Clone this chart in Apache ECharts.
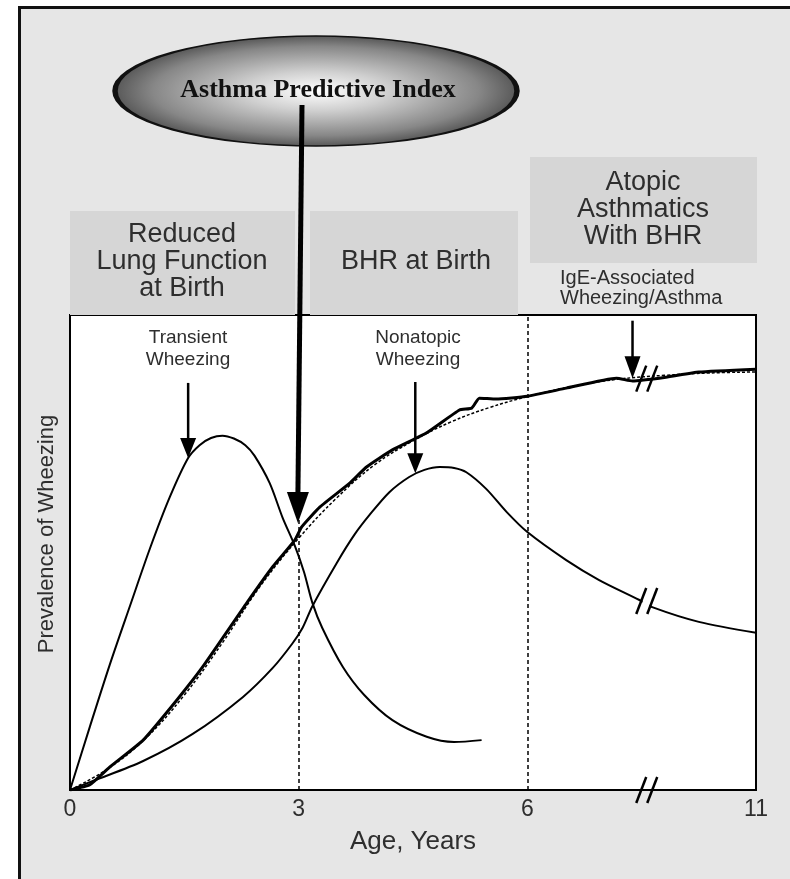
<!DOCTYPE html>
<html>
<head>
<meta charset="utf-8">
<script src="https://cdn.jsdelivr.net/npm/echarts@6/dist/echarts.min.js"></script>
<style>
  html, body { margin: 0; padding: 0; background: #fff; }
  #main { width: 790px; height: 879px; }
</style>
</head>
<body>
<div id="main"></div>
<script>
// ages in years, values = relative prevalence (0-100)
const tickAges = [0, 3, 6, 11];

const transientAge = [0, 0.26, 0.52, 0.79, 1.05, 1.31, 1.55, 1.70, 1.85, 2.0, 2.15, 2.30, 2.42, 2.62, 2.79, 2.95, 3.07, 3.18, 3.31, 3.58, 3.86, 4.23, 4.68, 5.04, 5.40];
const transientVal = [0, 13.3, 26.3, 38.9, 50.9, 61.7, 69.9, 72.6, 74.1, 74.6, 74.0, 72.6, 70.4, 64.6, 57.3, 51.4, 45.9, 39.4, 34.1, 25.9, 20.0, 14.7, 11.2, 10.1, 10.5];

const nonatopicAge = [0, 0.30, 0.96, 1.61, 2.27, 2.66, 2.92, 3.05, 3.18, 3.50, 3.73, 3.93, 4.19, 4.45, 4.65, 4.85, 5.04, 5.20, 5.46, 5.73, 6.0, 6.85, 7.57, 8.45, 8.73, 9.75, 11];
const nonatopicVal = [0, 1.9, 6.1, 11.8, 19.6, 25.7, 30.9, 34.1, 38.7, 47.8, 53.7, 57.9, 62.7, 65.9, 67.4, 68.0, 67.8, 66.9, 63.4, 58.5, 54.3, 48.4, 44.2, 40.0, 38.5, 35.4, 33.1];

const atopicAge = [0, 0.26, 0.52, 0.96, 1.40, 1.74, 2.32, 2.66, 2.95, 3.04, 3.28, 3.67, 3.89, 4.23, 4.68, 5.11, 5.27, 5.37, 5.59, 6.0, 6.85, 7.95, 8.3, 9.03, 9.75, 11];
const atopicVal = [0, 1.1, 4.8, 10.5, 18.9, 25.9, 39.4, 47.0, 52.6, 55.4, 59.6, 64.6, 68.0, 71.6, 75.2, 80.0, 80.4, 82.5, 82.3, 82.9, 84.6, 86.7, 86.1, 86.9, 88.0, 88.6];

const fitAge = [0, 0.5, 1, 1.5, 2, 2.5, 3, 3.5, 4, 4.5, 5, 5.5, 6, 7, 8, 9, 10, 11];
const fitVal = [0, 4.5, 11, 20, 31, 43, 53, 61.5, 68.5, 73.5, 77.5, 80.5, 82.8, 85, 86.5, 87.3, 87.8, 88.0];

// axis is broken after 6 years: later years are drawn compressed
function pos(age) { return age <= 6 ? age : 6 + (age - 6) * 0.6; }
function pairs(ages, vals) { return ages.map((a, i) => [pos(a), vals[i]]); }

const font = '"Liberation Sans", Arial, Helvetica, sans-serif';
const ink = '#2e2e2e';

const chart = echarts.init(document.getElementById('main'));

const lineBase = { type: 'line', showSymbol: false, silent: true, animation: false };

chart.setOption({
  backgroundColor: '#e6e6e6',
  animation: false,
  grid: {
    left: 70, top: 315, width: 686, height: 475,
    show: true, backgroundColor: '#fff', borderColor: '#000', borderWidth: 2
  },
  xAxis: {
    type: 'value', min: 0, max: pos(11), interval: 3,
    axisLine: { show: true, lineStyle: { color: '#000', width: 2 } },
    axisTick: { show: false },
    splitLine: { show: false },
    axisLabel: {
      margin: 8, color: ink, fontFamily: font, fontSize: 23,
      formatter: v => { const i = [0, 3, 6, pos(11)].indexOf(v); return i >= 0 ? String(tickAges[i]) : ''; }
    },
    name: 'Age, Years', nameLocation: 'middle', nameGap: 39,
    nameTextStyle: { color: ink, fontFamily: font, fontSize: 26 }
  },
  yAxis: {
    type: 'value', min: 0, max: 100,
    axisLine: { show: true, lineStyle: { color: '#000', width: 2 } },
    axisTick: { show: false }, axisLabel: { show: false }, splitLine: { show: false }
  },
  series: [
    Object.assign({}, lineBase, {
      name: 'Transient Wheezing', data: pairs(transientAge, transientVal), smooth: 0.3,
      lineStyle: { color: '#000', width: 2 },
      markLine: {
        silent: true, symbol: 'none', label: { show: false },
        lineStyle: { color: '#000', width: 1.5, type: [4, 3] },
        data: [{ xAxis: 3 }, { xAxis: 6 }]
      }
    }),
    Object.assign({}, lineBase, {
      name: 'Nonatopic Wheezing', data: pairs(nonatopicAge, nonatopicVal), smooth: 0.3,
      lineStyle: { color: '#000', width: 2 }
    }),
    Object.assign({}, lineBase, {
      name: 'IgE-Associated Wheezing/Asthma', data: pairs(atopicAge, atopicVal), smooth: 0.15,
      lineStyle: { color: '#000', width: 3 }
    }),
    Object.assign({}, lineBase, {
      name: 'fit', data: pairs(fitAge, fitVal), smooth: 0.4,
      lineStyle: { color: '#000', width: 1.5, type: [3, 2] }
    })
  ]
});

// annotations placed from data coordinates
function px(age, val) { return chart.convertToPixel({ gridIndex: 0 }, [pos(age), val]); }

function arrow(age, valTop, valTip, w, headW, headH) {
  const top = px(age, valTop), tip = px(age, valTip);
  return [
    { type: 'line', z: 50, shape: { x1: top[0], y1: top[1], x2: tip[0], y2: tip[1] - headH + 2 }, style: { stroke: '#000', lineWidth: w } },
    { type: 'polygon', z: 50, shape: { points: [[tip[0] - headW / 2, tip[1] - headH], [tip[0] + headW / 2, tip[1] - headH], [tip[0], tip[1]]] }, style: { fill: '#000' } }
  ];
}

function slashes(age, val, erase) {
  const c = px(age, val);
  const els = [];
  if (erase) {
    els.push({ type: 'polygon', z: 40, shape: { points: [[c[0] - 6, c[1] + 8], [c[0] - 1, c[1] - 8], [c[0] + 7, c[1] - 8], [c[0] + 2, c[1] + 8]] }, style: { fill: '#fff' } });
  }
  [-5, 6].forEach(d => {
    els.push({ type: 'line', z: 45, shape: { x1: c[0] + d - 5, y1: c[1] + 13, x2: c[0] + d + 5, y2: c[1] - 13 }, style: { stroke: '#000', lineWidth: 2.5 } });
  });
  return els;
}

function label(text, x, y, size, align, lh) {
  return {
    type: 'text', z: 30, x: x, y: y,
    style: {
      text: text, fill: ink, font: size + 'px ' + font, lineHeight: lh || size,
      align: align || 'center', verticalAlign: 'middle',
      textAlign: align || 'center', textVerticalAlign: 'middle'
    }
  };
}

const breakAge = 8.6;
const tip = px(2.99, 56.2);

const elements = [
  // page frame
  { type: 'rect', z: 1, shape: { x: 0, y: 0, width: 18, height: 879 }, style: { fill: '#fff' } },
  { type: 'rect', z: 1, shape: { x: 0, y: 0, width: 790, height: 6 }, style: { fill: '#fff' } },
  { type: 'polyline', z: 2, shape: { points: [[19.5, 879], [19.5, 7.5], [790, 7.5]] }, style: { stroke: '#111', lineWidth: 3, fill: null } },
  // phase boxes
  { type: 'rect', z: 3, shape: { x: 70, y: 211, width: 225, height: 104 }, style: { fill: '#d6d6d6' } },
  { type: 'rect', z: 3, shape: { x: 310, y: 211, width: 208, height: 104 }, style: { fill: '#d6d6d6' } },
  { type: 'rect', z: 3, shape: { x: 530, y: 157, width: 227, height: 106 }, style: { fill: '#d6d6d6' } },
  label('Reduced\nLung Function\nat Birth', 182, 262, 27, 'center', 27),
  label('BHR at Birth', 416, 262, 27),
  label('Atopic\nAsthmatics\nWith BHR', 643, 210, 27, 'center', 27),
  label('IgE-Associated\nWheezing/Asthma', 560, 288, 20, 'left', 20),
  label('Transient\nWheezing', 188, 349, 19, 'center', 22),
  label('Nonatopic\nWheezing', 418, 349, 19, 'center', 22),
  {
    type: 'text', z: 30, x: 47, y: 534, rotation: Math.PI / 2,
    style: {
      text: 'Prevalence of Wheezing', fill: ink, font: '22px ' + font,
      align: 'center', verticalAlign: 'middle', textAlign: 'center', textVerticalAlign: 'middle'
    }
  },
  // Asthma Predictive Index ellipse
  {
    type: 'circle', z: 20, x: 316, y: 91, scaleX: 201 / 55, scaleY: 1,
    shape: { cx: 0, cy: 0, r: 55 },
    style: {
      stroke: '#111', lineWidth: 1.5, strokeNoScale: true,
      fill: {
        type: 'radial', x: 0.5, y: 0.5, r: 0.5,
        colorStops: [
          { offset: 0, color: '#ffffff' },
          { offset: 0.35, color: '#d0d0d0' },
          { offset: 0.8, color: '#878787' },
          { offset: 1, color: '#555555' }
        ]
      }
    }
  },
  {
    type: 'text', z: 22, x: 318, y: 90,
    style: {
      text: 'Asthma Predictive Index', fill: '#111',
      font: 'bold 26px "Liberation Serif", "Times New Roman", serif',
      align: 'center', verticalAlign: 'middle', textAlign: 'center', textVerticalAlign: 'middle'
    }
  },
  { type: 'line', z: 60, shape: { x1: 302, y1: 105, x2: tip[0], y2: tip[1] - 28 }, style: { stroke: '#000', lineWidth: 5 } },
  { type: 'polygon', z: 60, shape: { points: [[tip[0] - 11, tip[1] - 31], [tip[0] + 11, tip[1] - 31], [tip[0], tip[1]]] }, style: { fill: '#000' } }
]
  .concat(arrow(1.55, 85.7, 69.9, 2.5, 16, 20))
  .concat(arrow(4.53, 85.9, 66.7, 2.5, 16, 20))
  .concat(arrow(8.3, 98.8, 86.7, 2.5, 16, 22))
  .concat(slashes(breakAge, 86.6, false))
  .concat(slashes(breakAge, 39.8, true))
  .concat(slashes(breakAge, 0, false));

chart.setOption({ graphic: { elements: elements } });
</script>
</body>
</html>
